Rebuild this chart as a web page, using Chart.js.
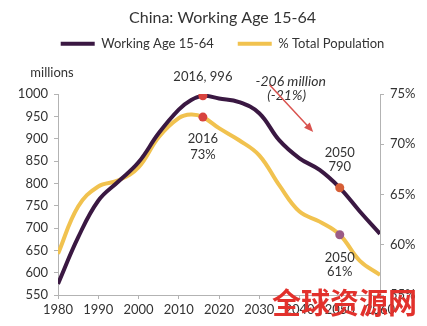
<!DOCTYPE html>
<html>
<head>
<meta charset="utf-8">
<script src="https://cdn.jsdelivr.net/npm/chart.js@4/dist/chart.umd.min.js"></script>
<style>
html, body { margin: 0; padding: 0; background: #fff; }
#wrap { position: relative; width: 427px; height: 326px; }
#mark { position: absolute; left: 272px; top: 280px; font: bold 29px "Noto Sans CJK SC"; color: #e2312c; white-space: nowrap; }
</style>
</head>
<body>
<div id="wrap">
    <canvas id="chart" width="427" height="326"></canvas>
    <div id="mark">全球资源网</div>
</div>
<script>
// values
const years      = [1980, 1985, 1990, 1995, 2000, 2005, 2010, 2013, 2016, 2020, 2025, 2030, 2035, 2040, 2045, 2050, 2055, 2060];
const workingAge = [575, 679, 761, 804, 847, 912, 965, 986, 996, 990, 982, 957, 896, 856, 830, 790, 737, 687];
const pctTotal   = [59.1, 63.8, 65.8, 66.4, 67.7, 70.7, 72.6, 72.95, 72.7, 71.6, 70.4, 68.9, 65.9, 63.3, 62.3, 61.0, 58.4, 57.0];
const markedYears = [2016, 2050];
const workingMarkerColors = ['#d8433e', '#d65e36'];
const pctMarkerColors = ['#d8433e', '#9b5b86'];

const PURPLE = '#3a1842';
const YELLOW = '#f1c24f';
const AXIS = '#b3b3b3';
const TEXT = '#333';
const FONT = 'Lato';

function markerRadius(ctx) {
    const yr = years[ctx.dataIndex];
    return markedYears.includes(yr) ? 4.5 : 0;
}
function markerColor(list) {
    return ctx => {
        const i = markedYears.indexOf(years[ctx.dataIndex]);
        return i >= 0 ? list[i] : 'transparent';
    };
}

const notes = {
    id: 'notes',
    beforeInit(chart) {
        const fit = chart.legend.fit;
        chart.legend.fit = function () {
            fit.call(this);
            this.height = 80.8;
        };
    },
    afterDatasetsDraw(chart) {
        const { ctx, chartArea, scales: { x, yL, yR } } = chart;
        ctx.save();
        ctx.fillStyle = TEXT;
        ctx.textAlign = 'center';
        ctx.textBaseline = 'middle';
        ctx.font = '13px ' + FONT;
        ctx.fillText('millions', chartArea.left - 6, chartArea.top - 21);

        const px16 = x.getPixelForValue(2016);
        const px50 = x.getPixelForValue(2050);
        const w16 = yL.getPixelForValue(workingAge[years.indexOf(2016)]);
        const w50 = yL.getPixelForValue(workingAge[years.indexOf(2050)]);
        const p16 = yR.getPixelForValue(pctTotal[years.indexOf(2016)]);
        const p50 = yR.getPixelForValue(pctTotal[years.indexOf(2050)]);

        ctx.fillText('2016, 996', px16, w16 - 19);
        ctx.fillText('2016', px16, p16 + 22);
        ctx.fillText('73%', px16, p16 + 38);
        ctx.fillText('2050', px50, w50 - 35);
        ctx.fillText('790', px50, w50 - 21);
        ctx.fillText('2050', px50, p50 + 23);
        ctx.fillText('61%', px50, p50 + 37);

        ctx.font = 'italic 14px ' + FONT;
        ctx.fillText('-206 million', x.getPixelForValue(2037.8), yL.getPixelForValue(1029));
        ctx.fillText('(-21%)', x.getPixelForValue(2036.8), yL.getPixelForValue(997));

        // arrow
        const x1 = x.getPixelForValue(2032.6), y1 = yL.getPixelForValue(1020);
        const x2 = x.getPixelForValue(2043.4), y2 = yL.getPixelForValue(915);
        const ang = Math.atan2(y2 - y1, x2 - x1);
        ctx.strokeStyle = '#d9534f';
        ctx.fillStyle = '#d9534f';
        ctx.lineWidth = 1.5;
        ctx.beginPath();
        ctx.moveTo(x1, y1);
        ctx.lineTo(x2 - 6 * Math.cos(ang), y2 - 6 * Math.sin(ang));
        ctx.stroke();
        ctx.beginPath();
        ctx.moveTo(x2, y2);
        ctx.lineTo(x2 - 10 * Math.cos(ang - 0.4), y2 - 10 * Math.sin(ang - 0.4));
        ctx.lineTo(x2 - 10 * Math.cos(ang + 0.4), y2 - 10 * Math.sin(ang + 0.4));
        ctx.closePath();
        ctx.fill();
        ctx.restore();
    }
};

new Chart(document.getElementById('chart'), {
    type: 'line',
    data: {
        datasets: [{
            label: 'Working Age 15-64',
            data: years.map((y, i) => ({ x: y, y: workingAge[i] })),
            yAxisID: 'yL',
            borderColor: PURPLE,
            backgroundColor: PURPLE,
            borderWidth: 4,
            tension: 0.4,
            pointRadius: markerRadius,
            pointBackgroundColor: markerColor(workingMarkerColors),
            pointBorderWidth: 0,
            order: 1
        }, {
            label: '% Total Population',
            data: years.map((y, i) => ({ x: y, y: pctTotal[i] })),
            yAxisID: 'yR',
            borderColor: YELLOW,
            backgroundColor: YELLOW,
            borderWidth: 4,
            tension: 0.4,
            pointRadius: markerRadius,
            pointBackgroundColor: markerColor(pctMarkerColors),
            pointBorderWidth: 0,
            order: 2
        }]
    },
    options: {
        responsive: false,
        animation: false,
        layout: { padding: { left: 18, right: 0, top: 0, bottom: 0 } },
        plugins: {
            title: {
                display: true,
                text: 'China: Working Age 15-64',
                color: TEXT,
                font: { family: FONT, size: 16, weight: 'normal' },
                padding: { top: 8, bottom: -14 }
            },
            legend: {
                labels: {
                    color: TEXT,
                    font: { family: FONT, size: 13 },
                    boxWidth: 34,
                    boxHeight: 4,
                    padding: 24,
                    generateLabels: chart => chart.data.datasets.map((ds, i) => ({
                        text: ds.label,
                        fillStyle: ds.borderColor,
                        strokeStyle: ds.borderColor,
                        lineWidth: 0,
                        fontColor: TEXT,
                        datasetIndex: i
                    }))
                }
            },
            tooltip: { enabled: false }
        },
        scales: {
            x: {
                type: 'linear',
                min: 1980,
                max: 2060,
                grid: { drawOnChartArea: false, tickLength: 4, color: AXIS },
                border: { color: AXIS },
                ticks: { stepSize: 10, padding: 3, color: TEXT, font: { family: FONT, size: 13 }, maxRotation: 0, callback: v => String(v) },
                afterFit: s => { s.height = 31; }
            },
            yL: {
                position: 'left',
                min: 550,
                max: 1000,
                grid: { drawOnChartArea: false, tickLength: 4, color: AXIS },
                border: { color: AXIS },
                ticks: { stepSize: 50, padding: 6, color: TEXT, font: { family: FONT, size: 13 }, callback: v => String(v) },
                afterFit: s => { s.width = 40; }
            },
            yR: {
                position: 'right',
                min: 55,
                max: 75,
                grid: { drawOnChartArea: false, tickLength: 4, color: AXIS },
                border: { color: AXIS },
                ticks: { stepSize: 5, padding: 6, color: TEXT, font: { family: FONT, size: 13 }, callback: v => v + '%' },
                afterFit: s => { s.width = 47; }
            }
        }
    },
    plugins: [notes]
});
</script>
</body>
</html>
